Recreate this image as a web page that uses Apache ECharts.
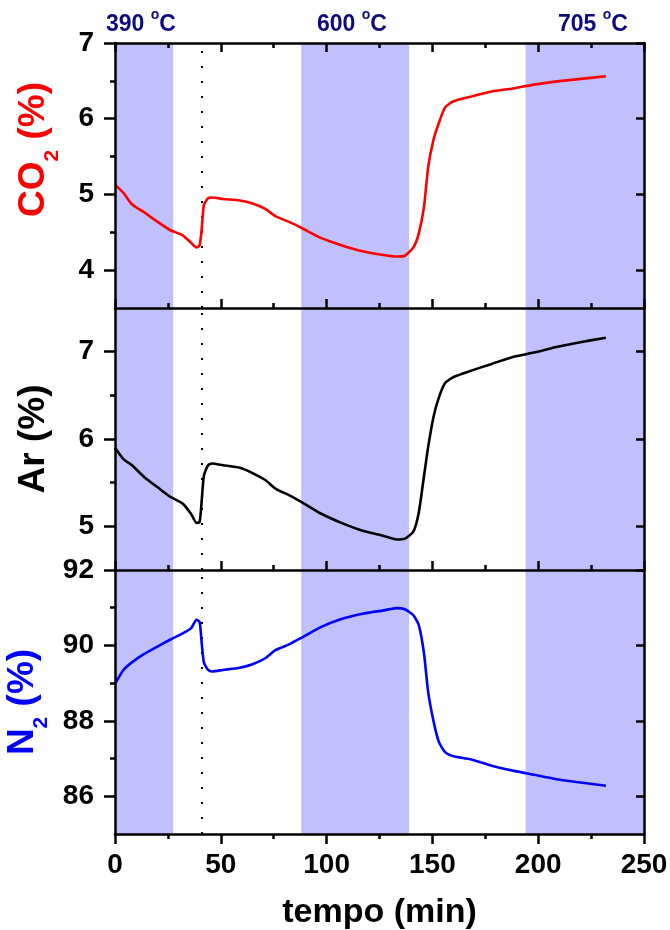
<!DOCTYPE html>
<html>
<head>
<meta charset="utf-8">
<script src="https://cdn.jsdelivr.net/npm/echarts@6/dist/echarts.min.js"></script>
<style>
  html, body { margin: 0; padding: 0; background: #fff; }
  #main { width: 670px; height: 930px; }
</style>
</head>
<body>
<div id="main"></div>
<script>
// tempo (min)
const tempo = [0, 4, 8, 14, 20, 26, 32, 36, 38.5, 40, 41, 42, 44, 46, 51, 59, 65, 71, 76, 82, 88, 97,
  107, 117, 127, 133, 137, 141, 143.5, 146, 148, 150.5, 153, 156, 160, 168, 178, 188, 198, 208, 218, 232];
const co2 = [5.13, 5.02, 4.87, 4.76, 4.64, 4.53, 4.46, 4.36, 4.30, 4.33, 4.55, 4.86, 4.95, 4.96, 4.94, 4.92,
  4.88, 4.81, 4.71, 4.64, 4.56, 4.43, 4.33, 4.25, 4.20, 4.18, 4.19, 4.30, 4.48, 4.83, 5.36, 5.72, 5.94, 6.15,
  6.23, 6.29, 6.36, 6.40, 6.45, 6.49, 6.52, 6.56];
const ar = [5.90, 5.77, 5.70, 5.56, 5.45, 5.34, 5.26, 5.14, 5.04, 5.05, 5.30, 5.58, 5.70, 5.72, 5.70, 5.67,
  5.61, 5.53, 5.43, 5.36, 5.28, 5.15, 5.04, 4.95, 4.89, 4.85, 4.86, 4.94, 5.15, 5.57, 5.91, 6.25, 6.47, 6.64,
  6.71, 6.78, 6.86, 6.94, 6.99, 7.05, 7.10, 7.16];
const n2 = [88.98, 89.35, 89.55, 89.78, 89.97, 90.15, 90.32, 90.46, 90.68, 90.62, 90.05, 89.55, 89.35, 89.31,
  89.35, 89.41, 89.50, 89.66, 89.88, 90.02, 90.20, 90.48, 90.70, 90.84, 90.93, 90.99, 90.96, 90.80, 90.55,
  89.80, 88.76, 88.00, 87.45, 87.17, 87.06, 86.98, 86.81, 86.68, 86.57, 86.46, 86.38, 86.28];

// isothermal bands (min) and their temperatures
const bands = [[0, 27.5], [88, 139], [194, 250]];
const bandTemps = ['390', '600', '705'];
const dottedAt = 41;

const co2Ticks = [4, 5, 6, 7], co2Minor = [4.5, 5.5, 6.5];
const arTicks = [5, 6, 7], arMinor = [5.5, 6.5];
const n2Ticks = [86, 88, 90, 92], n2Minor = [87, 89, 91];

const FONT = 'Liberation Sans, Arial, sans-serif';
const lineCol = '#000';

function pairs(ys) {
  return tempo.map((t, i) => [t, ys[i]]);
}

function xAx(grid, pos, inside, labels) {
  return {
    type: 'value', gridIndex: grid, position: pos, min: 0, max: 250, interval: 50, z: 10,
    axisLine: { show: true, onZero: false, lineStyle: { color: lineCol, width: 2.5 } },
    axisTick: { show: true, inside: inside, length: inside ? 9 : 10, lineStyle: { color: lineCol, width: 2.5 } },
    minorTick: { show: true, splitNumber: 2, length: 5, lineStyle: { color: lineCol, width: 2.5 } },
    axisLabel: { show: labels, margin: 17, fontSize: 28, fontWeight: 'bold', fontFamily: FONT, color: '#000' },
    splitLine: { show: false },
    name: labels ? 'tempo (min)' : '',
    nameLocation: 'middle', nameGap: 62,
    nameTextStyle: { fontSize: 34, fontWeight: 'bold', fontFamily: FONT, color: '#000' }
  };
}

function nameRich(color) {
  return {
    a: { fontSize: 37, fontWeight: 'bold', fontFamily: FONT, color: color, lineHeight: 58, verticalAlign: 'middle' },
    s: { fontSize: 21, fontWeight: 'bold', fontFamily: FONT, color: color, lineHeight: 20, verticalAlign: 'bottom' }
  };
}

function yAxes(grid, min, max, ticks, minor, name, color, shift) {
  return [{
    type: 'value', gridIndex: grid, position: 'left', min: min, max: max, z: 10,
    axisLine: { show: true, onZero: false, lineStyle: { color: lineCol, width: 2.5 } },
    axisTick: { show: true, customValues: ticks, length: 11, lineStyle: { color: lineCol, width: 2.5 } },
    axisLabel: { customValues: ticks, margin: 21, fontSize: 28, fontWeight: 'bold', fontFamily: FONT, color: '#000' },
    splitLine: { show: false },
    name: name, nameLocation: 'middle', nameRotate: 90, nameGap: 52,
    nameTextStyle: { fontFamily: FONT, fontWeight: 'bold', padding: [0, 0, 0, shift], rich: nameRich(color) }
  }, {
    type: 'value', gridIndex: grid, position: 'left', min: min, max: max, z: 10,
    axisLine: { show: false },
    axisTick: { show: true, customValues: minor, length: 5, lineStyle: { color: lineCol, width: 2.5 } },
    axisLabel: { show: false },
    splitLine: { show: false }
  }, {
    type: 'value', gridIndex: grid, position: 'right', min: min, max: max, z: 10,
    axisLine: { show: true, onZero: false, lineStyle: { color: lineCol, width: 2.5 } },
    axisTick: { show: true, inside: true, customValues: ticks, length: 8, lineStyle: { color: lineCol, width: 2.5 } },
    axisLabel: { show: false },
    splitLine: { show: false }
  }];
}

function series(data, xi, yi, color) {
  return {
    type: 'line', xAxisIndex: xi, yAxisIndex: yi, data: pairs(data),
    showSymbol: false, smooth: 0.2, z: 5,
    lineStyle: { color: color, width: 2.6 },
    markArea: {
      silent: true, z: 1,
      itemStyle: { color: '#c0c0ff', opacity: 1 },
      data: bands.map(b => [{ xAxis: b[0] }, { xAxis: b[1] }])
    },
    markLine: {
      silent: true, symbol: 'none', z: 2,
      label: { show: false },
      lineStyle: { color: '#000', width: 2, type: [2, 13] },
      data: [{ xAxis: dottedAt }]
    }
  };
}

function tempText(i, left) {
  return {
    type: 'text', left: left, top: 8,
    style: {
      text: '{t|' + bandTemps[i] + ' }{o|o}{t|C}',
      rich: {
        t: { fontSize: 23, fontWeight: 'bold', fontFamily: FONT, fill: '#0c0c7c', lineHeight: 28, verticalAlign: 'bottom' },
        o: { fontSize: 14, fontWeight: 'bold', fontFamily: FONT, fill: '#0c0c7c', lineHeight: 28, verticalAlign: 'top' }
      }
    }
  };
}

const chart = echarts.init(document.getElementById('main'));
chart.setOption({
  animation: false,
  grid: [
    { left: 115, right: 26, top: 43, height: 265, outerBoundsMode: 'none' },
    { left: 115, right: 26, top: 308, height: 262, outerBoundsMode: 'none' },
    { left: 115, right: 26, top: 570, height: 264, outerBoundsMode: 'none' }
  ],
  xAxis: [
    xAx(0, 'bottom', true, false),
    xAx(0, 'top', true, false),
    xAx(1, 'bottom', true, false),
    xAx(2, 'bottom', false, true)
  ],
  yAxis: [].concat(
    yAxes(0, 3.5, 7, co2Ticks, co2Minor, '{a|CO}{s|2}{a| (%)}', '#ff0000', 52),
    yAxes(1, 4.5, 7.5, arTicks, arMinor, '{a|Ar (%)}', '#000000', 0),
    yAxes(2, 85, 92, n2Ticks, n2Minor, '{a|N}{s|2}{a| (%)}', '#0000ff', 0)
  ),
  series: [
    series(co2, 0, 0, '#ff0000'),
    series(ar, 2, 3, '#000000'),
    series(n2, 3, 6, '#0000ff')
  ],
  graphic: [tempText(0, 106), tempText(1, 317), tempText(2, 558)]
});
</script>
</body>
</html>
